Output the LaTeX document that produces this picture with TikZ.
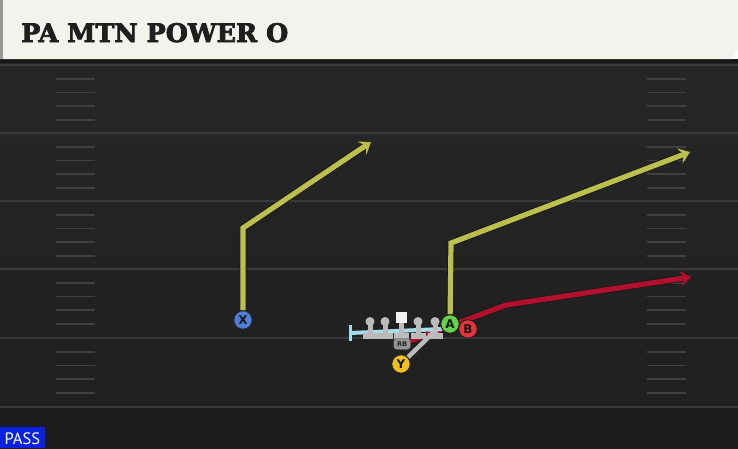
\documentclass[tikz,border=0pt]{standalone}
\usepackage{fontspec}
\newfontfamily\titlefont{DejaVu Serif}[FakeBold=3]
\newfontfamily\tagfont{PT Sans}
\newfontfamily\pfont{DejaVu Sans}
\usetikzlibrary{arrows.meta}
\pgfdeclarelayer{front}
\pgfsetlayers{main,front}
\definecolor{hdrbg}{HTML}{F4F2EC}
\definecolor{yardgray}{HTML}{3A3A3A}
\definecolor{hashgray}{HTML}{404040}
\definecolor{ryellow}{HTML}{BCBF4B}
\definecolor{rred}{HTML}{B3102E}
\definecolor{rgray}{HTML}{BBBBBB}
\definecolor{oblue}{HTML}{A6DCEA}
\definecolor{xblue}{HTML}{4F7FD8}
\definecolor{agreen}{HTML}{63D44A}
\definecolor{bred}{HTML}{E5343F}
\definecolor{yyellow}{HTML}{F0C020}
\definecolor{passblue}{HTML}{0A22E0}
\tikzset{yline/.style={draw=yardgray,line width=2pt}}
\tikzset{hmark/.style={draw=hashgray,line width=1.8pt}}
\tikzset{ppoint/.style={draw=black!85,circle,line width=1pt,inner sep=0pt,minimum size=18.5pt,font=\pfont\bfseries\fontsize{12}{12}\selectfont,text=black!90}}
\tikzset{rtip/.style={-{Stealth[length=11pt,width=16pt,inset=4.5pt,line width=0.8pt]}}}
\tikzset{yroute/.style={draw=ryellow,line width=5.2pt,preaction={draw=black!90,line width=7pt},rtip}}
\tikzset{rroute/.style={draw=rred,line width=5.2pt,preaction={draw=black!90,line width=7pt},rtip}}
\tikzset{groute/.style={draw=rgray,line width=4.5pt}}
\tikzset{lman/.style={fill=rgray}}

\begin{document}
\begin{tikzpicture}[x=1pt,y=-1pt]
    \useasboundingbox (0,0) rectangle (738,448);
    \clip (0,0) rectangle (738,448);

    % field
    \shade[top color=black!85,bottom color=black!88] (0,59) rectangle (738,448);
    \fill[black!89] (0,407) rectangle (738,448);
    \fill[black!91] (0,59) rectangle (738,63);
    \foreach \b in {65,133,201,269,338}{
      \foreach \k in {1,...,4}{
        \draw[hmark] (56,\b+13.7*\k) -- (95,\b+13.7*\k);
        \draw[hmark] (647,\b+13.7*\k) -- (686,\b+13.7*\k);
      }
    }
    \foreach \b in {65,133,201,269,338,407}{
      \draw[yline] (0,\b) -- (738,\b);
    }

    % header
    \fill[hdrbg] (0,0) -- (738,0) -- (738,48) -- (732,59) -- (0,59) -- cycle;
    \fill[black!40] (0,0) rectangle (2.5,59);
    \node[anchor=base west,inner sep=0pt,text=black!88,font=\titlefont\bfseries\fontsize{25.5}{26}\selectfont] (title) at (21,42) {PA MTN POWER O};

    % pass tag
    \fill[passblue] (0,427) rectangle (45,448);
    \node[anchor=base west,inner sep=0pt,text=white,font=\tagfont\fontsize{16.5}{17}\selectfont] (pass) at (4.5,444) {PASS};

    \begin{pgfonlayer}{front}
      % line
      \draw[oblue,line width=4pt] (350,333) -- (442,329);
      \draw[oblue,line width=3pt] (350,325) -- (350,341);
      \foreach \x in {370,385,401,418,435}{
        \fill[lman] (\x-2.5,322) rectangle (\x+2.5,336);
        \fill[lman] (\x-7.5,333) rectangle (\x+7.5,338.5);
      }
      \foreach \x in {370,385,418,435}{
        \fill[lman] (\x,321.5) circle (4.5);
      }
      \fill[black!5] (395.5,312) rectangle (406.5,323);
      \node[draw=black!70,fill=black!42,rounded corners=3pt,inner sep=0pt,minimum width=17pt,minimum height=11pt,text=black!85,font=\pfont\bfseries\fontsize{6.5}{6.5}\selectfont] (RB) at (402,344) {RB};
      % players
      \node[ppoint,fill=xblue] (X) at (243,320) {X};
      \node[ppoint,fill=agreen] (A) at (450,324) {A};
      \node[ppoint,fill=bred] (B) at (468,329) {B};
      \node[ppoint,fill=yyellow] (Y) at (401,364) {Y};
    \end{pgfonlayer}

    \coordinate (xbrk) at (243,228);
    \coordinate (xend) at (371,142);
    \coordinate (abrk) at (451,243);
    \coordinate (aend) at (690,152);
    \coordinate (rbrk) at (506,305);
    \coordinate (rend) at (691,277);
    \coordinate (yend) at (438,328);

    % routes
    \draw[yroute] (X) -- (xbrk) -- (xend);
    \draw[yroute] (A) -- (abrk) -- (aend);
    \draw[rroute] (RB) -- (rbrk) -- (rend);
    \draw[groute] (Y) -- (yend);

            \end{tikzpicture}
\end{document}
